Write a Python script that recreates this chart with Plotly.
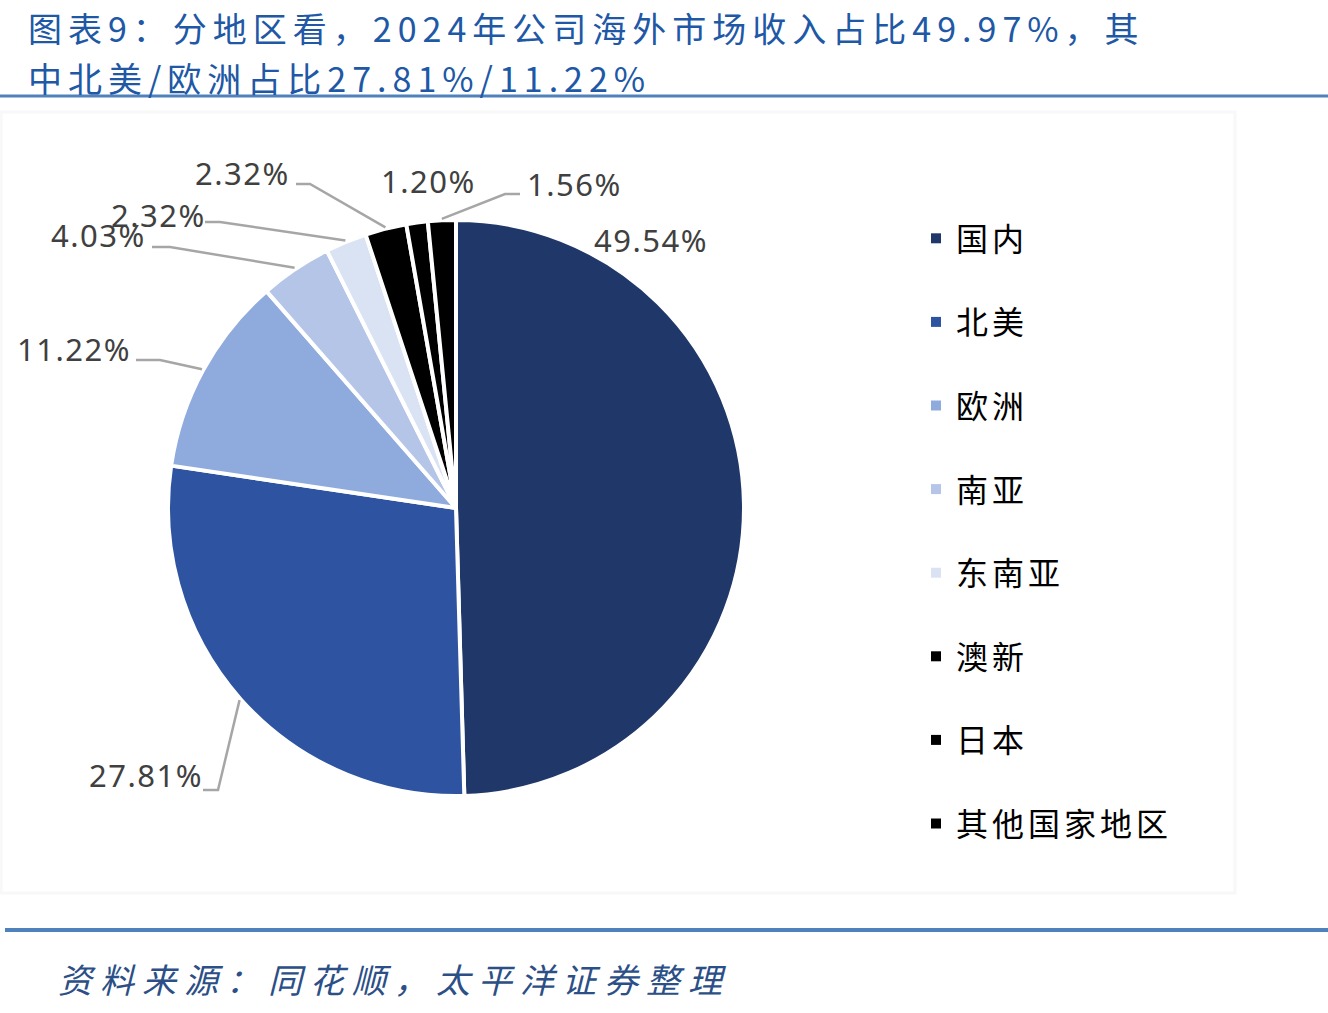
import math
import plotly.graph_objects as go

# ---------------- data ----------------
regions = ["国内", "北美", "欧洲", "南亚", "东南亚", "澳新", "日本", "其他国家地区"]
shares = [49.54, 27.81, 11.22, 4.03, 2.32, 2.32, 1.20, 1.56]
share_labels = ["49.54%", "27.81%", "11.22%", "4.03%", "2.32%", "2.32%", "1.20%", "1.56%"]

title_line1 = "图表9：分地区看，2024年公司海外市场收入占比49.97%，其"
title_line2 = "中北美/欧洲占比27.81%/11.22%"
source_text = "资料来源：同花顺，太平洋证券整理"

# ---------------- style ----------------
W, H = 1328, 1013
colors = ["#1F3769", "#2E54A1", "#8FAADC", "#B4C5E7", "#DAE3F3", "#000000", "#000000", "#000000"]
CX, CY, R = 456, 508, 288          # pie centre / radius in pixels
BLUE = "#2058A6"
LINE_BLUE = "#4F81BD"
LEADER = "#A6A6A6"
LABEL_FONT = dict(family="Noto Sans, Noto Sans CJK SC", size=31, color="#404040")

# label placement (pixels): text centre, and optional leader start + elbow
label_layout = [
    dict(c=(651, 240), lead=None),
    dict(c=(146, 775), lead=((203, 790), (218, 790))),
    dict(c=(74, 349), lead=((136, 360), (160, 360))),
    dict(c=(98, 235), lead=((152, 247), (170, 247))),
    dict(c=(158, 215), lead=((205, 222), (220, 222))),
    dict(c=(242, 173), lead=((296, 184), (310, 184))),
    dict(c=(428, 181), lead=None),
    dict(c=(574, 184), lead=((520, 194), (505, 194))),
]


def px(x):
    return x / W


def py(y):
    return 1 - y / H


def spaced(text, sp):
    return f'<span style="letter-spacing:{sp}px">{text}</span>'


fig = go.Figure()

fig.add_trace(go.Pie(
    values=shares,
    labels=regions,
    sort=False,
    direction="clockwise",
    rotation=0,
    textinfo="none",
    hoverinfo="label+percent",
    marker=dict(colors=colors, line=dict(color="white", width=4)),
    domain=dict(x=[px(CX - R), px(CX + R)], y=[py(CY + R), py(CY - R)]),
    showlegend=False,
))

# legend entries (one group each so spacing can be controlled)
for i, (name, col) in enumerate(zip(regions, colors)):
    fig.add_trace(go.Scatter(
        x=[None], y=[None], mode="markers", name=spaced(name, 4),
        marker=dict(symbol="square", size=10, color=col),
        legendgroup=f"g{i}", showlegend=True,
    ))

# data labels and leader lines, anchored at each slice's mid-angle
total = sum(shares)
shapes = []
annotations = []
cum = 0.0
for val, txt, lay in zip(shares, share_labels, label_layout):
    mid = (cum + val / 2) / total * 2 * math.pi
    cum += val
    ax = CX + R * 1.005 * math.sin(mid)
    ay = CY - R * 1.005 * math.cos(mid)
    annotations.append(dict(
        x=px(lay["c"][0]), y=py(lay["c"][1]), xref="paper", yref="paper",
        text=spaced(txt, 1.5), showarrow=False, font=LABEL_FONT,
        xanchor="center", yanchor="middle",
    ))
    if lay["lead"]:
        (sx, sy), (ex, ey) = lay["lead"]
        shapes.append(dict(
            type="path", xref="paper", yref="paper",
            path=f"M {px(sx)} {py(sy)} L {px(ex)} {py(ey)} L {px(ax)} {py(ay)}",
            line=dict(color=LEADER, width=2.5),
        ))

# title
for text, yy in [(title_line1, 28), (title_line2, 78)]:
    annotations.append(dict(
        x=px(26), y=py(yy), xref="paper", yref="paper", text=spaced(text, 6),
        showarrow=False, xanchor="left", yanchor="middle",
        font=dict(family="Noto Sans CJK SC", size=34, color=BLUE),
    ))

# source
annotations.append(dict(
    x=px(56), y=py(978), xref="paper", yref="paper",
    text=f"<i>{spaced(source_text, 8)}</i>", showarrow=False,
    xanchor="left", yanchor="middle",
    font=dict(family="Noto Sans CJK SC", size=34, color="#2B4F86"),
))

# rules and faint chart frame
shapes += [
    dict(type="line", xref="paper", yref="paper", x0=0, x1=1, y0=py(96), y1=py(96),
         line=dict(color=LINE_BLUE, width=3)),
    dict(type="line", xref="paper", yref="paper", x0=px(5), x1=1, y0=py(930), y1=py(930),
         line=dict(color=LINE_BLUE, width=4)),
    dict(type="rect", xref="paper", yref="paper", x0=px(1), x1=px(1235), y0=py(893), y1=py(112),
         line=dict(color="#F8F8F8", width=3), layer="below"),
]

fig.update_layout(
    width=W, height=H,
    margin=dict(l=0, r=0, t=0, b=0),
    paper_bgcolor="white", plot_bgcolor="white",
    xaxis=dict(visible=False), yaxis=dict(visible=False),
    shapes=shapes, annotations=annotations,
    legend=dict(
        x=px(916), y=py(211), xanchor="left", yanchor="top",
        font=dict(family="Noto Sans CJK SC", size=32, color="#000000"),
        tracegroupgap=39, bgcolor="rgba(0,0,0,0)",
        itemsizing="trace",
    ),
)

fig.write_html("out.html")
